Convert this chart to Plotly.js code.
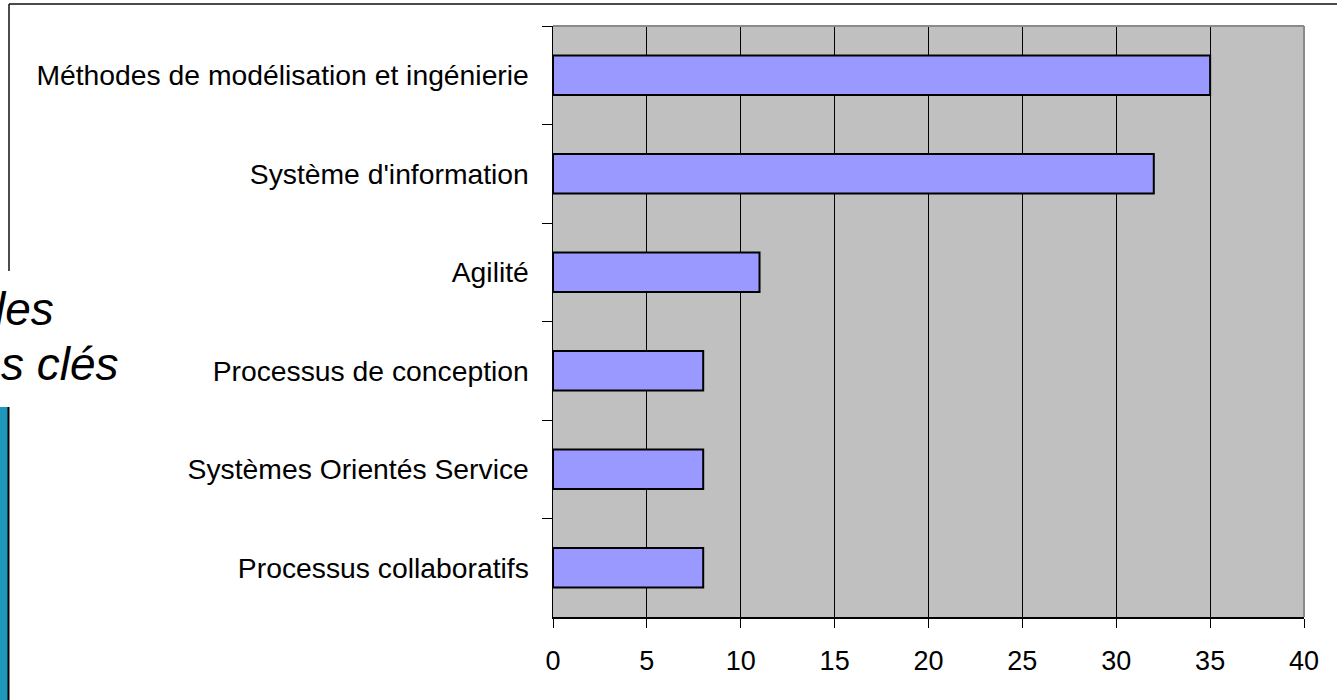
<!DOCTYPE html>
<html>
<head>
<meta charset="utf-8">
<script src="https://cdn.plot.ly/plotly-3.0.1.min.js"></script>
<style>
  html, body { margin: 0; padding: 0; background: #ffffff; }
  #chart { width: 1337px; height: 700px; }
</style>
</head>
<body>
<div id="chart"></div>
<script>
// ---- data ----
const categories = [
  "Méthodes de modélisation et ingénierie",
  "Système d'information",
  "Agilité",
  "Processus de conception",
  "Systèmes Orientés Service",
  "Processus collaboratifs"
];
const counts = [35, 32, 11, 8, 8, 8];
const xTickValues = [0, 5, 10, 15, 20, 25, 30, 35, 40];
const sideTextLines = ["les", "s clés"];

// ---- layout geometry (pixels) ----
const FIG_W = 1337, FIG_H = 700;
const M = { l: 553, r: 33, t: 26, b: 83 };
const PW = FIG_W - M.l - M.r, PH = FIG_H - M.t - M.b;
const px = x => (x - M.l) / PW;           // page x -> paper x
const py = y => (FIG_H - M.b - y) / PH;   // page y -> paper y

const FONT = "Arial, 'Liberation Sans', sans-serif";

const trace = {
  type: "bar",
  orientation: "h",
  y: categories,
  x: counts,
  marker: { color: "#9999ff", line: { color: "#000000", width: 2 } },
  hoverinfo: "x+y"
};

const shapes = [
  // plot area top / right grey border
  { type: "line", xref: "paper", yref: "paper", x0: 0, x1: 1, y0: 1, y1: 1,
    line: { color: "#8a8a8a", width: 2 }, layer: "above" },
  { type: "line", xref: "paper", yref: "paper", x0: 1, x1: 1, y0: 0, y1: 1,
    line: { color: "#8a8a8a", width: 2 }, layer: "above" },
  // outer frame pieces
  { type: "line", xref: "paper", yref: "paper", x0: px(9), x1: px(1340), y0: py(4), y1: py(4),
    line: { color: "#111111", width: 1.5 } },
  { type: "line", xref: "paper", yref: "paper", x0: px(9), x1: px(9), y0: py(4), y1: py(271),
    line: { color: "#111111", width: 1.5 } },
  // blue strip at the lower left
  { type: "rect", xref: "paper", yref: "paper", x0: px(-2), x1: px(8), y0: py(407), y1: py(702),
    fillcolor: "#1f97bb", line: { width: 0 } },
  { type: "line", xref: "paper", yref: "paper", x0: px(8.5), x1: px(8.5), y0: py(407), y1: py(702),
    line: { color: "#000000", width: 2 } }
];

const annotations = [
  { xref: "paper", yref: "paper", x: px(56), y: py(309), xanchor: "right", yanchor: "middle",
    text: "<i>" + sideTextLines[0] + "</i>", showarrow: false,
    font: { family: FONT, size: 46, color: "#000000" } },
  { xref: "paper", yref: "paper", x: px(121), y: py(364), xanchor: "right", yanchor: "middle",
    text: "<i>" + sideTextLines[1] + "</i>", showarrow: false,
    font: { family: FONT, size: 46, color: "#000000" } }
];

const layout = {
  width: FIG_W, height: FIG_H,
  margin: M,
  paper_bgcolor: "#ffffff",
  plot_bgcolor: "#c0c0c0",
  showlegend: false,
  bargap: 0.6,
  font: { family: FONT, size: 28, color: "#000000" },
  xaxis: {
    range: [0, 40],
    tickvals: xTickValues,
    ticktext: xTickValues.map(String),
    showgrid: true, gridcolor: "#000000", gridwidth: 1,
    zeroline: false,
    showline: true, linecolor: "#000000", linewidth: 1.5,
    ticks: "outside", ticklen: 9, tickcolor: "#000000", tickwidth: 1,
    tickfont: { family: FONT, size: 27, color: "#000000" },
    ticklabelstandoff: 10,
    fixedrange: true
  },
  yaxis: {
    type: "category",
    autorange: "reversed",
    showgrid: false, zeroline: false,
    showline: true, linecolor: "#000000", linewidth: 1.5,
    ticks: "outside", tickson: "boundaries", ticklen: 10, tickcolor: "#000000", tickwidth: 1,
    tickfont: { family: FONT, size: 28.3, color: "#000000" },
    ticklabelstandoff: 17,
    fixedrange: true
  },
  shapes: shapes,
  annotations: annotations
};

Plotly.newPlot("chart", [trace], layout, { displayModeBar: false, staticPlot: true });
</script>
</body>
</html>
